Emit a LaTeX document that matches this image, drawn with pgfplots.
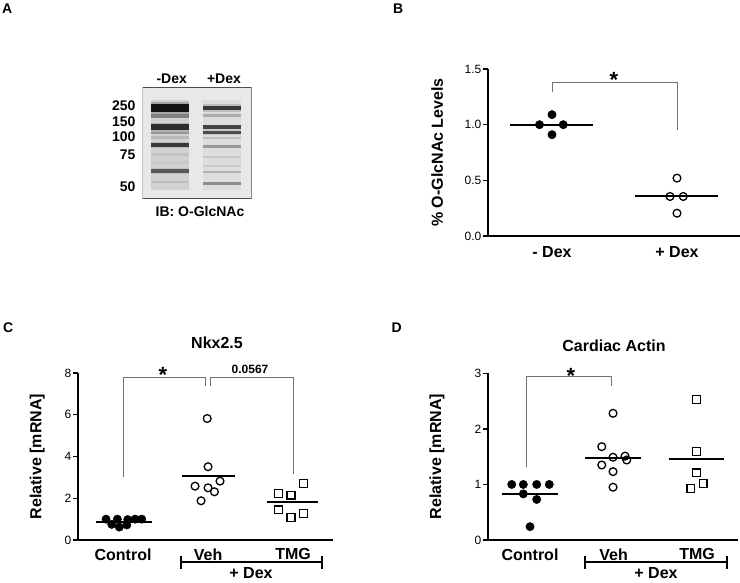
\documentclass[border=0pt]{standalone}
\usepackage{pgfplots}
\pgfplotsset{compat=1.18}
\usepackage{fontspec}
\setmainfont{Liberation Sans}
\newcommand\fs[1]{\fontsize{#1}{#1}\selectfont}
\definecolor{brk}{gray}{0.45}
\pgfplotsset{
  panel/.style={
    scale only axis, anchor=south west, clip=false,
    axis lines=left,
    axis line style={-, line width=2pt, black},
    tick align=outside, major tick length=5pt,
    ytick style={line width=1.4pt, black},
    xtick style={draw=none},
    tick label style={font=\fs{12}},
    yticklabel style={inner sep=1.5pt},
    xticklabel style={font=\fs{16}\bfseries},
    /pgf/number format/assume math mode=true,
    ylabel style={font=\fs{16}\bfseries, anchor=center},
  },
  filled/.style={only marks, mark=*, mark size=4.2pt, mark options={fill=black, draw=black}},
  opencirc/.style={only marks, mark=o, mark size=3.9pt, mark options={line width=1.3pt, draw=black, fill=white}},
  opensq/.style={only marks, mark=square, mark size=3.9pt, mark options={line width=1.3pt, draw=black, fill=white}},
  meanline/.style={line width=2pt, black},
  bracket/.style={line width=1pt, brk},
  band/.style={line width=#1},
}
\begin{document}
\begin{tikzpicture}
\path[use as bounding box] (0,0) rectangle (740pt,-582pt);

% ---------------- Panel A: blot ----------------
\begin{axis}[scale only axis, anchor=south west, at={(142.7pt,-198.3pt)},
  width=109pt, height=110.6pt, xmin=142.7, xmax=251.7, ymin=-198.3, ymax=-87.7,
  hide axis, clip=true]
\addplot[fill=black!9, draw=none] coordinates {(142.7,-198.3) (251.7,-198.3) (251.7,-87.7) (142.7,-87.7)} --cycle;
% lane smears
\addplot[fill=black!20, draw=none, opacity=0.8] coordinates {(150.7,-190) (189.3,-190) (189.3,-100) (150.7,-100)} --cycle;
\addplot[fill=black!14, draw=none, opacity=0.8] coordinates {(202.7,-190) (241,-190) (241,-100) (202.7,-100)} --cycle;
% -Dex bands (halo then core)
\addplot[band=12pt, black!55, opacity=0.45] coordinates {(150.7,-107.5) (189.3,-107.5)};
\addplot[band=8pt, black!92] coordinates {(150.7,-107.5) (189.3,-107.5)};
\addplot[band=4pt, black!50] coordinates {(150.7,-115.5) (189.3,-115.5)};
\addplot[band=9pt, black!45, opacity=0.45] coordinates {(150.7,-127) (189.3,-127)};
\addplot[band=5.5pt, black!82] coordinates {(150.7,-127) (189.3,-127)};
\addplot[band=2.5pt, black!42] coordinates {(150.7,-133) (189.3,-133)};
\addplot[band=3pt, black!28] coordinates {(150.7,-137.5) (189.3,-137.5)};
\addplot[band=6pt, black!40, opacity=0.4] coordinates {(150.7,-145) (189.3,-145)};
\addplot[band=3.5pt, black!78] coordinates {(150.7,-145) (189.3,-145)};
\addplot[band=3pt, black!24] coordinates {(150.7,-154) (189.3,-154)};
\addplot[band=3pt, black!21] coordinates {(150.7,-162) (189.3,-162)};
\addplot[band=6pt, black!35, opacity=0.4] coordinates {(150.7,-171) (189.3,-171)};
\addplot[band=3.5pt, black!65] coordinates {(150.7,-171) (189.3,-171)};
\addplot[band=2.5pt, black!25] coordinates {(150.7,-182) (189.3,-182)};
% +Dex bands
\addplot[band=8pt, black!40, opacity=0.45] coordinates {(202.7,-108) (241,-108)};
\addplot[band=4.5pt, black!78] coordinates {(202.7,-108) (241,-108)};
\addplot[band=3pt, black!33] coordinates {(202.7,-115.5) (241,-115.5)};
\addplot[band=10pt, black!35, opacity=0.4] coordinates {(202.7,-129.5) (241,-129.5)};
\addplot[band=3.5pt, black!74] coordinates {(202.7,-127) (241,-127)};
\addplot[band=3pt, black!70] coordinates {(202.7,-132) (241,-132)};
\addplot[band=2.5pt, black!25] coordinates {(202.7,-138) (241,-138)};
\addplot[band=3pt, black!40] coordinates {(202.7,-146) (241,-146)};
\addplot[band=2.5pt, black!22] coordinates {(202.7,-157) (241,-157)};
\addplot[band=2pt, black!20] coordinates {(202.7,-166) (241,-166)};
\addplot[band=2.5pt, black!30] coordinates {(202.7,-172) (241,-172)};
\addplot[band=3pt, black!45] coordinates {(202.7,-183) (241,-183)};
% border
\addplot[draw=black!70, line width=1.5pt] coordinates {(142.7,-198.3) (251.7,-198.3) (251.7,-87.7) (142.7,-87.7)} --cycle;
\end{axis}
\begin{scope}[font=\fs{14}\bfseries]
\node at (171.7pt,-79pt) {-Dex};
\node at (224pt,-79pt) {+Dex};
\node[anchor=east] at (139pt,-105.3pt) {250};
\node[anchor=east] at (139pt,-121.7pt) {150};
\node[anchor=east] at (139pt,-136.7pt) {100};
\node[anchor=east] at (139pt,-154.3pt) {75};
\node[anchor=east] at (139pt,-186.7pt) {50};
\node at (200pt,-211pt) {IB: O-GlcNAc};
\end{scope}

% ---------------- Panel B ----------------
\begin{axis}[panel, at={(488pt,-236pt)}, width=252pt, height=167pt,
  xmin=-0.512, xmax=1.504, ymin=0, ymax=1.5,
  ytick={0,0.5,1,1.5}, yticklabels={0.0,0.5,1.0,1.5},
  xtick={0,1}, xticklabels={- Dex,+ Dex},
  xticklabel style={yshift=-2pt},
  ylabel={\% O-GlcNAc Levels},
  ylabel style={at={(axis description cs:-0.202,0.5)}}]
\addplot[bracket] coordinates {(0,1.29) (0,1.38) (1,1.38) (1,0.95)};
\addplot[meanline] coordinates {(-0.336,1.0) (0.328,1.0)};
\addplot[meanline] coordinates {(0.664,0.355) (1.33,0.355)};
\addplot[filled] coordinates {(-0.1,1.0) (0.09,1.0) (0,1.09) (0,0.91)};
\addplot[opencirc] coordinates {(1,0.52) (0.944,0.355) (1.05,0.355) (1,0.205)};
\end{axis}
\node[font=\fs{22}\bfseries, anchor=base] at (614pt,-87.6pt) {*};

% ---------------- Panel C ----------------
\begin{axis}[panel, at={(78pt,-540pt)}, width=255pt, height=167pt,
  xmin=-0.53, xmax=2.47, ymin=0, ymax=8,
  ytick={0,2,4,6,8},
  xtick={0,1,2}, xticklabels={Control,Veh,TMG},
  ylabel={Relative [mRNA]},
  ylabel style={at={(axis description cs:-0.16,0.5)}}]
\addplot[bracket] coordinates {(0,3.03) (0,7.78) (0.965,7.78) (0.965,7.4)};
\addplot[bracket] coordinates {(1.024,7.4) (1.024,7.78) (2.01,7.78) (2.01,3.16)};
\addplot[meanline] coordinates {(-0.318,0.88) (0.338,0.88)};
\addplot[meanline] coordinates {(0.694,3.07) (1.318,3.07)};
\addplot[meanline] coordinates {(1.694,1.80) (2.294,1.80)};
\addplot[filled] coordinates {(-0.2,1.0) (-0.133,0.75) (-0.067,1.0) (-0.044,0.62) (0.044,0.72) (0.055,0.98) (0.141,1.0) (0.22,1.0)};
\addplot[opencirc] coordinates {(0.99,5.82) (1.0,3.51) (0.847,2.58) (1.0,2.5) (1.141,2.82) (1.075,2.31) (0.918,1.88)};
\addplot[opensq] coordinates {(1.827,2.23) (1.976,2.15) (2.121,2.71) (1.827,1.44) (1.976,1.09) (2.121,1.28)};
\end{axis}
\node[font=\fs{22}\bfseries, anchor=base] at (163pt,-382.6pt) {*};
\node[font=\fs{12}\bfseries] at (250pt,-369pt) {0.0567};
\node[font=\fs{16}\bfseries] at (217pt,-343pt) {Nkx2.5};
\draw[line width=2pt] (181pt,-562pt) -- (321.7pt,-562pt);
\draw[line width=2pt] (181pt,-555.5pt) -- (181pt,-568.5pt);
\draw[line width=2pt] (321.7pt,-555.5pt) -- (321.7pt,-568.5pt);
\node[font=\fs{16}\bfseries, inner sep=0pt] at (251pt,-573.5pt) {+ Dex};

% ---------------- Panel D ----------------
\begin{axis}[panel, at={(488pt,-540pt)}, width=250pt, height=166.7pt,
  xmin=-0.503, xmax=2.49, ymin=0, ymax=3,
  ytick={0,1,2,3},
  xtick={0,1,2}, xticklabels={Control,Veh,TMG},
  ylabel={Relative [mRNA]},
  ylabel style={at={(axis description cs:-0.204,0.5)}}]
\addplot[bracket] coordinates {(-0.04,1.32) (-0.04,2.94) (0.98,2.94) (0.98,2.78)};
\addplot[meanline] coordinates {(-0.335,0.83) (0.335,0.83)};
\addplot[meanline] coordinates {(0.659,1.48) (1.33,1.48)};
\addplot[meanline] coordinates {(1.665,1.45) (2.323,1.45)};
\addplot[filled] coordinates {(-0.219,1.0) (-0.08,1.0) (0.08,1.0) (0.231,1.0) (-0.08,0.83) (0.08,0.73) (0,0.24)};
\addplot[opencirc] coordinates {(0.994,2.28) (0.859,1.68) (0.994,1.49) (1.138,1.51) (1.158,1.44) (0.859,1.35) (0.994,1.23) (0.994,0.95)};
\addplot[opensq] coordinates {(1.996,2.53) (1.996,1.59) (1.996,1.21) (2.072,1.02) (1.925,0.93)};
\end{axis}
\node[font=\fs{22}\bfseries, anchor=base] at (571pt,-383pt) {*};
\node[font=\fs{16}\bfseries] at (614pt,-346pt) {Cardiac Actin};
\draw[line width=2pt] (585pt,-562pt) -- (726.7pt,-562pt);
\draw[line width=2pt] (585pt,-555.5pt) -- (585pt,-568.5pt);
\draw[line width=2pt] (726.7pt,-555.5pt) -- (726.7pt,-568.5pt);
\node[font=\fs{16}\bfseries, inner sep=0pt] at (656pt,-573.5pt) {+ Dex};

% panel letters
\begin{scope}[font=\fs{14}\bfseries]
\node at (7.3pt,-8.8pt) {A};
\node at (398.3pt,-8.8pt) {B};
\node at (8.3pt,-327.3pt) {C};
\node at (396.7pt,-327.3pt) {D};
\end{scope}
\end{tikzpicture}
\end{document}
